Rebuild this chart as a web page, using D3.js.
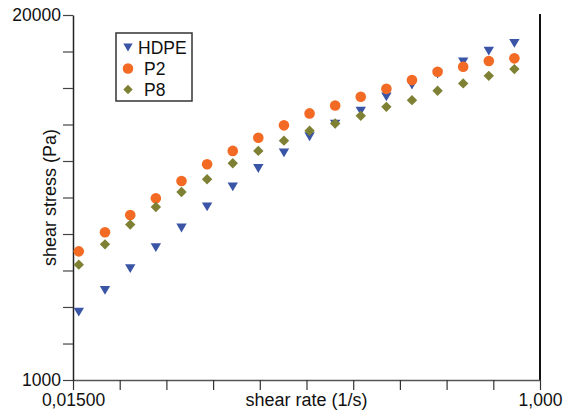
<!DOCTYPE html>
<html>
<head>
<meta charset="utf-8">
<script src="https://cdn.jsdelivr.net/npm/d3@7/dist/d3.min.js"></script>
<style>
  html, body { margin: 0; padding: 0; background: #fff; }
  svg { display: block; font-family: "Liberation Sans", Arial, sans-serif; }
</style>
</head>
<body>
<svg id="chart" width="574" height="417"></svg>
<script>
// ---- data ----
const shearRate = [0.0158, 0.0200, 0.0251, 0.0316, 0.0398, 0.0501, 0.0631, 0.0794, 0.1000,
                   0.1259, 0.1585, 0.1995, 0.2512, 0.3162, 0.3981, 0.5012, 0.6310, 0.7943];
const hdpe = [1746, 2087, 2494, 2964, 3482, 4138, 4878, 5674, 6451,
              7362, 8165, 9085, 10220, 11250, 12310, 13620, 14880, 15850];
const p2   = [2874, 3361, 3875, 4444, 5123, 5877, 6556, 7302, 8086,
              8917, 9520, 10220, 10910, 11720, 12550, 13080, 13710, 14010];
const p8   = [2577, 3045, 3580, 4138, 4681, 5195, 5925, 6556, 7130,
              7738, 8211, 8740, 9412, 9945, 10740, 11410, 12140, 12830];
const seriesNames = ["HDPE", "P2", "P8"];
const xTicks = [0.015, 0.02283, 0.03474, 0.05288, 0.08047, 0.12247, 0.18639, 0.28367, 0.43172, 0.65704, 1.0];
const xTickLabels = {0: "0,01500", 10: "1,000"};
const yTicks = [1000, 1349, 1821, 2457, 3314, 4472, 6034, 8142, 10986, 14823, 20000];
const yTickLabels = {0: "1000", 10: "20000"};
const xTitle = "shear rate (1/s)";
const yTitle = "shear stress (Pa)";

// ---- layout ----
const svg = d3.select("#chart");
const mLeft = 73, mRight = 540, mTop = 15, mBottom = 380;
const x = d3.scaleLog().domain([0.015, 1.0]).range([mLeft, mRight]);
const y = d3.scaleLog().domain([1000, 20000]).range([mBottom, mTop]);

const colors = {HDPE: "#3a55a6", P2: "#f26a24", P8: "#7e8034"};
const shapes = {
  HDPE: "M-5.2,-4.4L5.2,-4.4L0,4.4Z",
  P2: d3.symbol().type(d3.symbolCircle).size(Math.PI * 5.3 * 5.3)(),
  P8: "M0,-5.2L5.2,0L0,5.2L-5.2,0Z"
};

// right border
svg.append("line")
  .attr("x1", mRight).attr("x2", mRight).attr("y1", mTop - 1).attr("y2", mBottom)
  .attr("stroke", "#111").attr("stroke-width", 2);

// x axis
const xAxis = d3.axisBottom(x).tickValues(xTicks).tickSize(10).tickSizeOuter(0)
  .tickFormat((d, i) => xTickLabels[i] || "");
const gx = svg.append("g").attr("transform", `translate(0,${mBottom})`).call(xAxis);
gx.select(".domain").attr("stroke", "#555").attr("stroke-width", 1.5);
gx.selectAll(".tick line").attr("stroke", "#333").attr("stroke-width", 1.2);
gx.selectAll(".tick text").attr("font-size", 17.5).attr("fill", "#111")
  .attr("font-family", "Liberation Sans, Arial, sans-serif").attr("y", 14).attr("dy", "0.71em");

// y axis
const yAxis = d3.axisLeft(y).tickValues(yTicks).tickSize(10).tickSizeOuter(0)
  .tickFormat((d, i) => yTickLabels[i] || "");
const gy = svg.append("g").attr("transform", `translate(${mLeft},0)`).call(yAxis);
gy.select(".domain").attr("stroke", "#222").attr("stroke-width", 1.5);
gy.selectAll(".tick line").attr("stroke", "#444").attr("stroke-width", 1.2);
gy.selectAll(".tick text").attr("font-size", 17.5).attr("fill", "#111")
  .attr("font-family", "Liberation Sans, Arial, sans-serif").attr("x", -12);

// axis titles
svg.append("text").attr("x", (mLeft + mRight) / 2).attr("y", 406)
  .attr("text-anchor", "middle").attr("font-size", 18).attr("fill", "#111").text(xTitle);
svg.append("text").attr("transform", `translate(56,${(mTop + mBottom) / 2}) rotate(-90)`)
  .attr("text-anchor", "middle").attr("font-size", 18).attr("fill", "#111").text(yTitle);

// points
const allSeries = [
  {name: "HDPE", values: hdpe},
  {name: "P2", values: p2},
  {name: "P8", values: p8}
];
allSeries.forEach(s => {
  svg.append("g").selectAll("path").data(s.values).join("path")
    .attr("d", shapes[s.name])
    .attr("transform", (v, i) => `translate(${x(shearRate[i])},${y(v)})`)
    .attr("fill", colors[s.name]);
});

// legend
const lg = svg.append("g");
lg.append("rect").attr("x", 116).attr("y", 33).attr("width", 76).attr("height", 68)
  .attr("fill", "#fff").attr("stroke", "#333").attr("stroke-width", 1.5);
const legendY = [47.5, 68.5, 89.5];
const legendTextX = [138, 144, 144];
seriesNames.forEach((n, i) => {
  lg.append("path").attr("d", shapes[n])
    .attr("transform", `translate(128,${legendY[i]})${n === "P2" ? "" : " scale(0.9)"}`)
    .attr("fill", colors[n]);
  lg.append("text").attr("x", legendTextX[i]).attr("y", legendY[i]).attr("dy", "0.36em")
    .attr("font-size", 17.5).attr("fill", "#111").text(n);
});
</script>
</body>
</html>
